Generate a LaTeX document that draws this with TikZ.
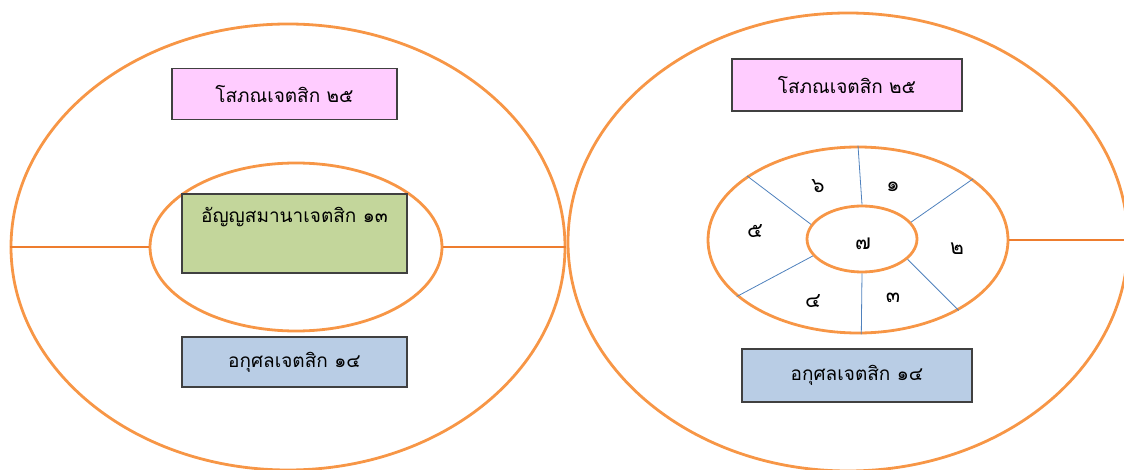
\documentclass[tikz,border=0pt]{standalone}
\usepackage{fontspec}
\newfontfamily\thaifont[Script=Thai]{Loma}
\usetikzlibrary{shapes.geometric}
\definecolor{ringorange}{HTML}{F79646}
\definecolor{linkorange}{HTML}{EE7D2E}
\definecolor{spokeblue}{HTML}{4F81BD}
\definecolor{pinkfill}{HTML}{FFCCFF}
\definecolor{greenfill}{HTML}{C3D69B}
\definecolor{bluefill}{HTML}{B9CDE5}
\definecolor{boxline}{HTML}{404040}
\tikzset{
  ring/.style={ellipse, draw=ringorange, line width=2.8pt, inner sep=0pt},
  link/.style={draw=linkorange, line width=2.6pt},
  spoke/.style={draw=spokeblue, line width=0.8pt},
  boxtext/.style={font=\thaifont\fontsize{19}{22}\selectfont},
  box/.style={rectangle, draw=boxline, line width=1.2pt, inner sep=0pt, boxtext},
  num/.style={font=\thaifont\fontsize{21}{24}\selectfont, inner sep=0pt}
}
\begin{document}
\begin{tikzpicture}[x=1pt,y=-1pt]
\useasboundingbox (0,0) rectangle (1124,470);
% left group
\node[ring, minimum width=554pt, minimum height=446pt] (LO) at (288,247) {};
\node[ring, minimum width=292pt, minimum height=168pt] (LI) at (296,247) {};
\draw[link] (LO.west) -- (LI.west);
\draw[link] (LI.east) -- (LO.east);
\node[box, fill=pinkfill, minimum width=225pt, minimum height=51pt] (LP) at (284.5,94) {โสภณเจตสิก ๒๕};
\node[box, fill=greenfill, minimum width=225pt, minimum height=79pt] (LG) at (294.5,233.5) {};
\node[boxtext, inner sep=0pt] (LGT) at (294.5,217) {อัญญสมานาเจตสิก ๑๓};
\node[box, fill=bluefill, minimum width=225pt, minimum height=50pt] (LB) at (294.5,362) {อกุศลเจตสิก ๑๔};
% right group
\node[ring, minimum width=560pt, minimum height=458pt] (RO) at (848,242) {};
\node[ring, minimum width=300pt, minimum height=186pt] (RR) at (858,240) {};
\node[ring, minimum width=110pt, minimum height=66pt] (RC) at (862,239) {};
\coordinate (REND) at (1124,240);
\draw[link] (RR.east) -- (REND);
\draw[spoke] (RC.90) -- (RR.90);
\draw[spoke] (RC.19) -- (RR.28);
\draw[spoke] (RC.-24) -- (RR.-35);
\draw[spoke] (RC.-90) -- (RR.-88);
\draw[spoke] (RC.199) -- (RR.205);
\draw[spoke] (RC.164) -- (RR.150);
\node[num] (N7) at (863,244) {๗};
\node[num] (N1) at (893,187) {๑};
\node[num] (N2) at (957,249) {๒};
\node[num] (N3) at (893,298) {๓};
\node[num] (N4) at (813,301) {๔};
\node[num] (N5) at (755,231) {๕};
\node[num] (N6) at (818,186) {๖};
\node[box, fill=pinkfill, minimum width=230pt, minimum height=52pt] (RP) at (847,85) {โสภณเจตสิก ๒๕};
\node[box, fill=bluefill, minimum width=230pt, minimum height=53pt] (RB) at (857,375.5) {อกุศลเจตสิก ๑๔};
\end{tikzpicture}
\end{document}
